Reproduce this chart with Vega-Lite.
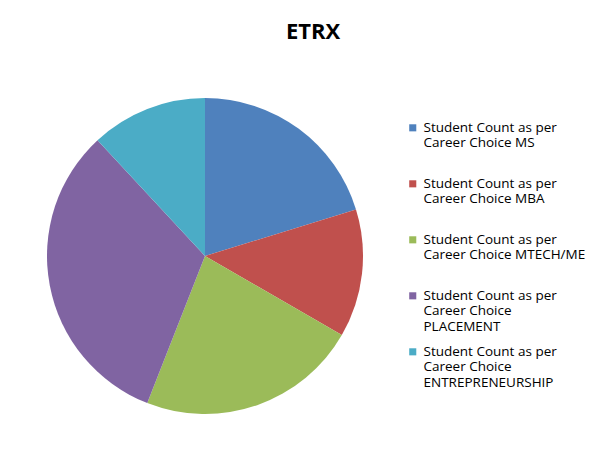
{
  "$schema": "https://vega.github.io/schema/vega-lite/v6.json",
  "width": 410,
  "height": 400,
  "autosize": {"type": "none"},
  "padding": {"left": 0, "top": 56, "right": 193, "bottom": 0},
  "background": "white",
  "title": {
    "text": "ETRX",
    "font": "Open Sans",
    "fontSize": 22,
    "fontWeight": "bold",
    "color": "black",
    "anchor": "middle",
    "dx": 108,
    "offset": 12
  },
  "data": {
    "values": [
      {"choice": "Student Count as per Career Choice  MS", "count": 17, "i": 1},
      {"choice": "Student Count as per Career Choice  MBA", "count": 11, "i": 2},
      {"choice": "Student Count as per Career Choice  MTECH/ME", "count": 19, "i": 3},
      {"choice": "Student Count as per Career Choice  PLACEMENT", "count": 27, "i": 4},
      {"choice": "Student Count as per Career Choice  ENTREPRENEURSHIP", "count": 10, "i": 5}
    ]
  },
  "mark": {"type": "arc", "outerRadius": 158},
  "encoding": {
    "theta": {"field": "count", "type": "quantitative", "stack": true},
    "order": {"field": "i", "type": "quantitative"},
    "color": {
      "field": "choice",
      "type": "nominal",
      "scale": {
        "domain": [
          "Student Count as per Career Choice  MS",
          "Student Count as per Career Choice  MBA",
          "Student Count as per Career Choice  MTECH/ME",
          "Student Count as per Career Choice  PLACEMENT",
          "Student Count as per Career Choice  ENTREPRENEURSHIP"
        ],
        "range": ["#4F81BD", "#C0504D", "#9BBB59", "#8064A2", "#4BACC6"]
      },
      "legend": {
        "title": null,
        "orient": "none",
        "legendX": 406,
        "legendY": 58,
        "symbolType": "M-1,1H1V3H-1Z",
        "symbolSize": 50,
        "symbolStrokeWidth": 0,
        "labelFont": "Open Sans",
        "labelFontSize": 13.5,
        "labelColor": "black",
        "labelLimit": 300,
        "rowPadding": 4,
        "labelBaseline": "top",
        "labelExpr": "indexof(datum.label, 'PLACEMENT') >= 0 || indexof(datum.label, 'ENTREPRENEURSHIP') >= 0 ? ['Student Count as per', 'Career Choice', substring(datum.label, 36)] : ['Student Count as per', substring(datum.label, 21), '']"
      }
    }
  },
  "config": {"view": {"stroke": null}}
}
